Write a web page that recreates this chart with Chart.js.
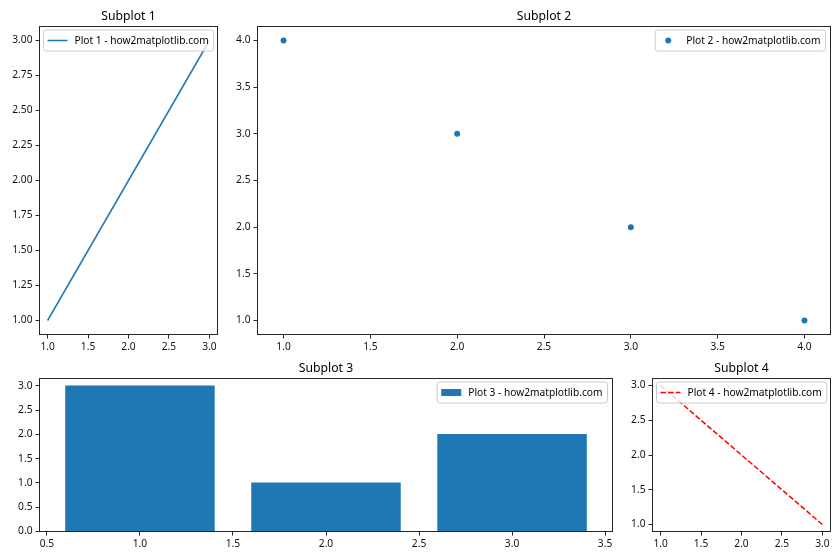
<!DOCTYPE html>
<html>
<head>
<meta charset="utf-8">
<script src="https://cdn.jsdelivr.net/npm/chart.js@4.4.1/dist/chart.umd.min.js"></script>
<style>
  body { margin: 0; background: #fff; }
  #wrap { position: relative; width: 840px; height: 560px; }
  #wrap canvas { position: absolute; left: 0; top: 0; }
</style>
</head>
<body>
<div id="wrap">
  <canvas id="c1" width="840" height="560"></canvas>
  <canvas id="c2" width="840" height="560"></canvas>
  <canvas id="c3" width="840" height="560"></canvas>
  <canvas id="c4" width="840" height="560"></canvas>
</div>
<script>
// ===============================
// Data
// ===============================
const x1 = [1, 2, 3];
const y1 = [1, 2, 3];
const x2 = [1, 2, 3, 4];
const y2 = [4, 3, 2, 1];
const x3 = [1, 2, 3];
const y3 = [3, 1, 2];
const x4 = [1, 2, 3];
const y4 = [3, 2, 1];

// Tick labels
const ticks1X = ["1.0", "1.5", "2.0", "2.5", "3.0"];
const ticks1Y = ["1.00", "1.25", "1.50", "1.75", "2.00", "2.25", "2.50", "2.75", "3.00"];
const ticks2X = ["1.0", "1.5", "2.0", "2.5", "3.0", "3.5", "4.0"];
const ticks2Y = ["1.0", "1.5", "2.0", "2.5", "3.0", "3.5", "4.0"];
const ticks3X = ["0.5", "1.0", "1.5", "2.0", "2.5", "3.0", "3.5"];
const ticks3Y = ["0.0", "0.5", "1.0", "1.5", "2.0", "2.5", "3.0"];
const ticks4X = ["1.0", "1.5", "2.0", "2.5", "3.0"];
const ticks4Y = ["1.0", "1.5", "2.0", "2.5", "3.0"];

const BLUE = "#1f77b4";
const FONT = '"Noto Sans", "DejaVu Sans", sans-serif';
Chart.defaults.font.family = FONT;
Chart.defaults.font.size = 10.2;
Chart.defaults.color = "#111";

// ===============================
// Frame, title and legend (matplotlib look)
// ===============================
const mplDecor = {
  id: "mplDecor",
  afterDatasetsDraw(chart, args, opts) {
    const { ctx, chartArea: a } = chart;
    ctx.save();
    ctx.strokeStyle = "#262626";
    ctx.lineWidth = 1;
    ctx.strokeRect(a.left, a.top, a.right - a.left, a.bottom - a.top);

    ctx.fillStyle = "#000";
    ctx.font = "12.2px " + FONT;
    ctx.textAlign = "center";
    ctx.textBaseline = "alphabetic";
    ctx.fillText(opts.title, (a.left + a.right) / 2, a.top - 7);

    // legend box
    ctx.font = "10.2px " + FONT;
    const tw = ctx.measureText(opts.label).width;
    const w = 31 + tw + 5, h = 21;
    const x = opts.corner === "left" ? a.left + 4 : a.right - 5 - w;
    const y = a.top + 3.5;
    ctx.beginPath();
    ctx.roundRect(x, y, w, h, 2.5);
    ctx.fillStyle = "rgba(255,255,255,0.8)";
    ctx.fill();
    ctx.strokeStyle = "#cccccc";
    ctx.stroke();

    const cy = y + h / 2;
    const ds = chart.data.datasets[0];
    if (opts.kind === "line") {
      ctx.strokeStyle = ds.borderColor;
      ctx.lineWidth = ds.borderWidth;
      ctx.setLineDash(ds.borderDash || []);
      ctx.beginPath();
      ctx.moveTo(x + 4, cy);
      ctx.lineTo(x + 24, cy);
      ctx.stroke();
      ctx.setLineDash([]);
    } else if (opts.kind === "point") {
      ctx.fillStyle = ds.backgroundColor;
      ctx.beginPath();
      ctx.arc(x + 13, cy, 3, 0, Math.PI * 2);
      ctx.fill();
    } else {
      ctx.fillStyle = ds.backgroundColor;
      ctx.fillRect(x + 4, cy - 3.5, 20, 7);
    }
    ctx.fillStyle = "#000";
    ctx.textAlign = "left";
    ctx.textBaseline = "middle";
    ctx.fillText(opts.label, x + 31, cy + 0.5);
    ctx.restore();
  }
};

function axisCfg(min, max, labels, isY) {
  return {
    type: "linear", min: min, max: max, offset: false,
    grid: { display: true, drawOnChartArea: false, drawTicks: true, tickLength: 4, color: "#262626", offset: false },
    border: { display: false },
    ticks: { autoSkip: false, maxRotation: 0, padding: isY ? 3 : 2, callback: (v, i) => labels[i] },
    afterBuildTicks: ax => { ax.ticks = labels.map(t => ({ value: Number(t) })); },
    afterFit: ax => { if (isY) ax.width = 36; else ax.height = 20; }
  };
}

function makeChart(id, type, dataset, box, xs, ys, deco) {
  return new Chart(document.getElementById(id), {
    type: type,
    data: { datasets: [dataset] },
    options: {
      responsive: false,
      animation: false,
      layout: { padding: { left: box.left - 36, top: box.top, right: 840 - box.right, bottom: 560 - box.bottom - 20 } },
      scales: { x: axisCfg(xs[0], xs[1], xs[2], false), y: axisCfg(ys[0], ys[1], ys[2], true) },
      plugins: { legend: { display: false }, title: { display: false }, tooltip: { enabled: false }, mplDecor: deco }
    },
    plugins: [mplDecor]
  });
}

const pts = (xs, ys) => xs.map((x, i) => ({ x: x, y: ys[i] }));

// Subplot 1 - line
makeChart("c1", "line",
  { data: pts(x1, y1), borderColor: BLUE, borderWidth: 1.5, pointRadius: 0, fill: false, tension: 0 },
  { left: 39.5, top: 26.5, right: 217.5, bottom: 334.5 },
  [0.9, 3.1, ticks1X], [0.9, 3.1, ticks1Y],
  { title: "Subplot 1", label: "Plot 1 - how2matplotlib.com", corner: "left", kind: "line" });

// Subplot 2 - scatter
makeChart("c2", "scatter",
  { data: pts(x2, y2), backgroundColor: BLUE, borderWidth: 0, pointRadius: 3 },
  { left: 257.5, top: 26.5, right: 830.5, bottom: 334.5 },
  [0.85, 4.15, ticks2X], [0.85, 4.15, ticks2Y],
  { title: "Subplot 2", label: "Plot 2 - how2matplotlib.com", corner: "right", kind: "point" });

// Subplot 3 - bar
makeChart("c3", "bar",
  { data: pts(x3, y3), backgroundColor: BLUE, borderWidth: 0, barThickness: "flex", categoryPercentage: 1, barPercentage: 0.8 },
  { left: 39.5, top: 378.5, right: 612.5, bottom: 531.5 },
  [0.46, 3.54, ticks3X], [0, 3.15, ticks3Y],
  { title: "Subplot 3", label: "Plot 3 - how2matplotlib.com", corner: "right", kind: "bar" });

// Subplot 4 - dashed line
makeChart("c4", "line",
  { data: pts(x4, y4), borderColor: "#ff0000", borderWidth: 1.5, borderDash: [5.4, 2.3], pointRadius: 0, fill: false, tension: 0 },
  { left: 652.5, top: 378.5, right: 830.5, bottom: 531.5 },
  [0.9, 3.1, ticks4X], [0.9, 3.1, ticks4Y],
  { title: "Subplot 4", label: "Plot 4 - how2matplotlib.com", corner: "left", kind: "line" });
</script>
</body>
</html>
